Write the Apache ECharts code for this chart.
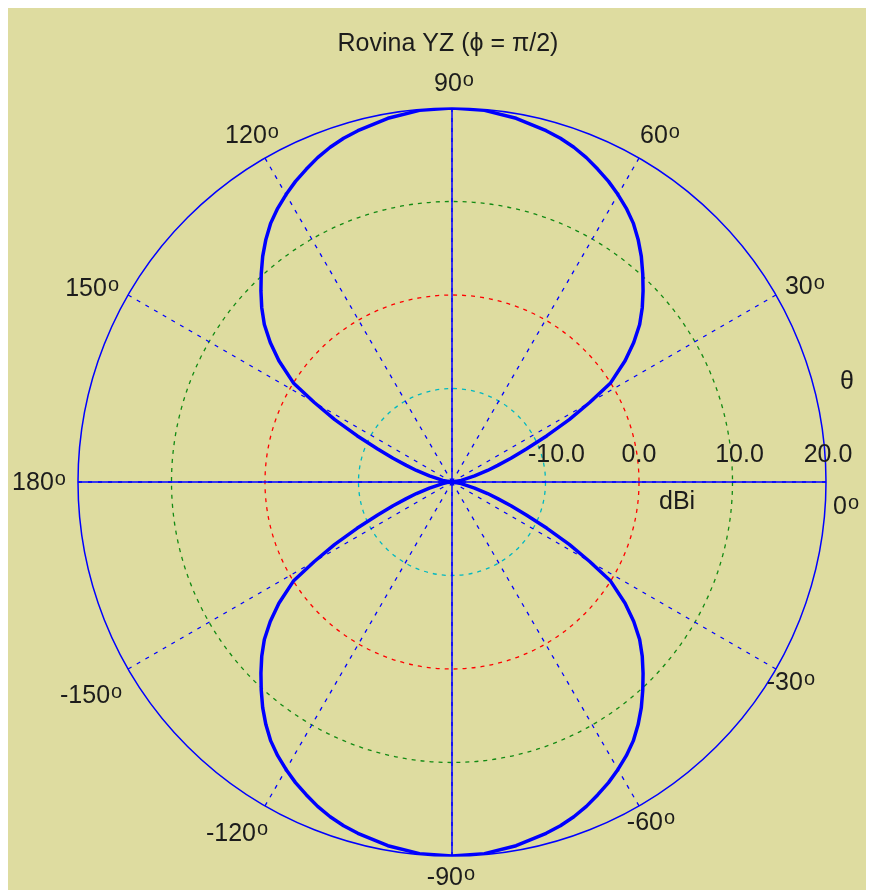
<!DOCTYPE html>
<html>
<head>
<meta charset="utf-8">
<script src="https://cdn.jsdelivr.net/npm/echarts@6/dist/echarts.min.js"></script>
<style>
  html, body { margin: 0; padding: 0; background: #ffffff; }
  #frame { position: absolute; left: 8px; top: 8px; width: 858px; height: 882px; background: #dedca0; }
  #chart { width: 100%; height: 100%; }
</style>
</head>
<body>
<div id="frame"><div id="chart"></div></div>
<script>
// Radiation pattern of the YZ plane, angle theta in degrees, gain in dBi
const thetaDeg = [
  0, 5, 10, 15, 18, 20, 22, 24, 26, 28, 30, 32, 35, 37.5, 40, 42.5, 45, 47.5, 50, 52.5, 55, 57.5, 60, 62.5, 65, 67.5, 70, 72.5, 75, 80, 85, 90,
  95, 100, 105, 107.5, 110, 112.5, 115, 117.5, 120, 122.5, 125, 127.5, 130, 132.5, 135, 137.5, 140, 142.5, 145, 148, 150, 152, 154, 156, 158, 160, 162, 165, 170, 175, 180,
  185, 190, 195, 198, 200, 202, 204, 206, 208, 210, 212, 215, 217.5, 220, 222.5, 225, 227.5, 230, 232.5, 235, 237.5, 240, 242.5, 245, 247.5, 250, 252.5, 255, 260, 265, 270,
  275, 280, 285, 287.5, 290, 292.5, 295, 297.5, 300, 302.5, 305, 307.5, 310, 312.5, 315, 317.5, 320, 322.5, 325, 328, 330, 332, 334, 336, 338, 340, 342, 345, 350, 355, 360
];
const gainDbi = [
  -20, -19.8, -19.0, -17.5, -16.0, -14.8, -13.2, -11.3, -8.7, -5.8, -3.0, 0.0, 2.6, 4.5, 6.2, 7.6, 8.9, 10.2, 11.5, 12.7, 13.8, 14.7, 15.5, 16.25, 16.9, 17.55, 18.1, 18.55, 18.9, 19.5, 19.9, 20.0,
  19.9, 19.5, 18.9, 18.55, 18.1, 17.55, 16.9, 16.25, 15.5, 14.7, 13.8, 12.7, 11.5, 10.2, 8.9, 7.6, 6.2, 4.5, 2.6, 0.0, -3.0, -5.8, -8.7, -11.3, -13.2, -14.8, -16.0, -17.5, -19.0, -19.8, -20,
  -19.8, -19.0, -17.5, -16.0, -14.8, -13.2, -11.3, -8.7, -5.8, -3.0, 0.0, 2.6, 4.5, 6.2, 7.6, 8.9, 10.2, 11.5, 12.7, 13.8, 14.7, 15.5, 16.25, 16.9, 17.55, 18.1, 18.55, 18.9, 19.5, 19.9, 20.0,
  19.9, 19.5, 18.9, 18.55, 18.1, 17.55, 16.9, 16.25, 15.5, 14.7, 13.8, 12.7, 11.5, 10.2, 8.9, 7.6, 6.2, 4.5, 2.6, 0.0, -3.0, -5.8, -8.7, -11.3, -13.2, -14.8, -16.0, -17.5, -19.0, -19.8, -20
];

// Angle ticks (counter-clockwise from the 0 direction) and their printed text
const angleTicks = [0, 30, 60, 90, 120, 150, 180, 210, 240, 270, 300, 330];
const angleTickText = ['0', '30', '60', '90', '120', '150', '180', '-150', '-120', '-90', '-60', '-30'];
// Pixel nudges of each angle caption away from its point on the rim
const angleLabelNudge = [
  [20, 25], [29, -8], [21, -22], [2, -24], [-13, -22], [-36, -6],
  [-39, 1], [-37, 27], [-28, 28], [-1, 22], [12, 17], [15, 14]
];

// Radial scale in dBi
const radiusMin = -20;
const radiusMax = 20;
const radiusStep = 10;
// Extra left padding of individual radial captions (keyed by tick value)
const radiusLabelPad = { '-10': 22, '0': 0, '10': 14, '20': 4 };

const FONT = '"Liberation Sans", Arial, sans-serif';
const INK = '#1c1c1c';
const BLUE = '#0000ff';

const pattern = thetaDeg.map((t, i) => [gainDbi[i], t]);

const degRich = {
  n: { fontSize: 25, lineHeight: 28, fontFamily: FONT, color: INK },
  s: { fontSize: 20, lineHeight: 18, fontFamily: FONT, color: INK, verticalAlign: 'top', padding: [0, 0, 0, 1] }
};

const angleCaptions = angleTicks.map((a, i) => ({
  value: [radiusMax, a],
  label: {
    formatter: '{n|' + angleTickText[i] + '}{s|o}',
    offset: angleLabelNudge[i]
  }
}));

const radiusRich = {};
Object.keys(radiusLabelPad).forEach(k => {
  radiusRich['p' + k.replace('-', 'm')] = {
    fontSize: 25, fontFamily: FONT, color: INK, padding: [0, 0, 0, radiusLabelPad[k]]
  };
});

const chart = echarts.init(document.getElementById('chart'));

chart.setOption({
  animation: false,
  title: {
    text: 'Rovina YZ (\u03D5 = \u03C0/2)',
    left: 435,
    top: 19,
    textAlign: 'center',
    textStyle: { fontFamily: FONT, fontSize: 25, fontWeight: 'normal', color: INK }
  },
  polar: { center: [444, 474], radius: 374 },
  angleAxis: {
    type: 'value',
    min: 0,
    max: 360,
    interval: 30,
    startAngle: 0,
    clockwise: false,
    axisLine: { show: true, lineStyle: { color: BLUE, width: 1.5 } },
    axisTick: { show: false },
    axisLabel: { show: false },
    splitLine: { show: true, lineStyle: { color: BLUE, width: 1.3, type: [4, 6] } }
  },
  radiusAxis: {
    type: 'value',
    min: radiusMin,
    max: radiusMax,
    interval: radiusStep,
    axisLine: { show: false },
    axisTick: { show: false },
    axisLabel: {
      showMinLabel: false,
      margin: 14,
      color: INK,
      fontFamily: FONT,
      fontSize: 25,
      formatter: v => '{p' + String(v).replace('-', 'm') + '|' + v.toFixed(1) + '}',
      rich: radiusRich
    },
    splitLine: {
      show: true,
      lineStyle: {
        color: ['rgba(0,0,0,0)', '#00b8c0', '#ff0000', '#138a13', 'rgba(0,0,0,0)'],
        width: 1.3,
        type: [4, 5]
      }
    }
  },
  graphic: [
    { type: 'text', left: 651, top: 482, style: { text: 'dBi', font: '25px ' + FONT, fill: INK } },
    { type: 'text', left: 832, top: 362, style: { text: '\u03B8', font: '25px ' + FONT, fill: INK } }
  ],
  series: [
    {
      type: 'line', coordinateSystem: 'polar', silent: true, symbol: 'none', z: 3,
      lineStyle: { color: BLUE, width: 1.5 },
      data: [[radiusMax, 0], [radiusMin, 0], [radiusMax, 180]]
    },
    {
      type: 'line', coordinateSystem: 'polar', silent: true, symbol: 'none', z: 3,
      lineStyle: { color: BLUE, width: 1.5 },
      data: [[radiusMax, 90], [radiusMin, 90], [radiusMax, 270]]
    },
    {
      type: 'line', coordinateSystem: 'polar', symbol: 'none', z: 5,
      lineStyle: { color: BLUE, width: 3.5, join: 'round' },
      data: pattern
    },
    {
      type: 'scatter', coordinateSystem: 'polar', silent: true, symbolSize: 0, z: 6,
      itemStyle: { opacity: 1 },
      label: {
        show: true,
        position: 'inside',
        align: 'center',
        verticalAlign: 'middle',
        color: INK,
        opacity: 1,
        textBorderWidth: 0,
        textBorderColor: 'transparent',
        rich: degRich
      },
      data: angleCaptions
    }
  ]
});
</script>
</body>
</html>
